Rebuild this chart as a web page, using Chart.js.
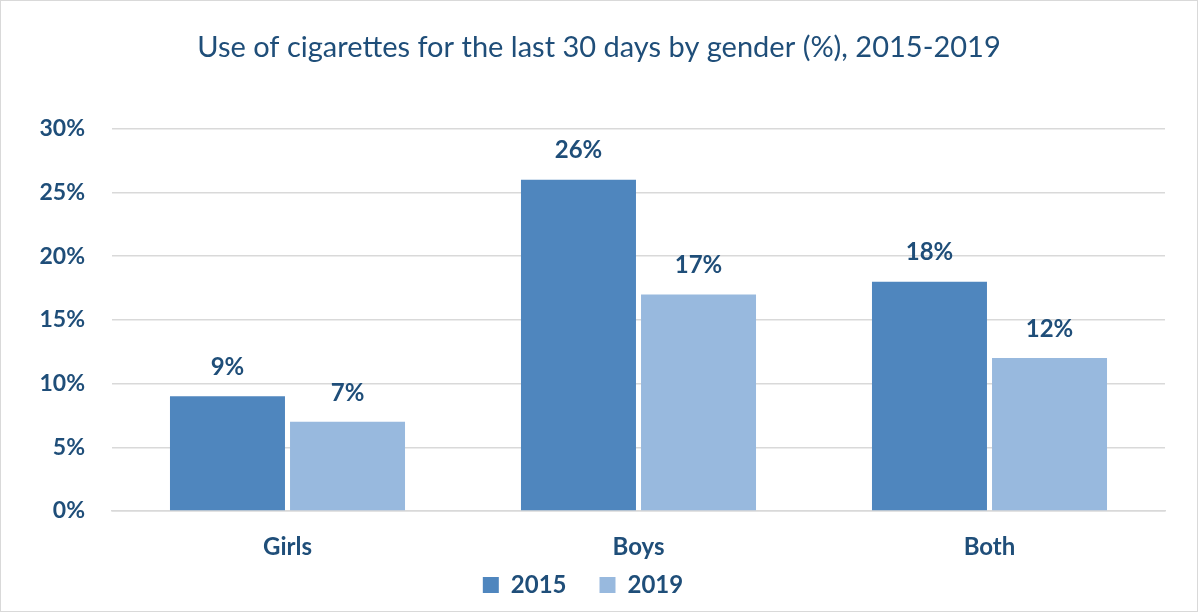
<!DOCTYPE html>
<html>
<head>
<meta charset="utf-8">
<script src="https://cdn.jsdelivr.net/npm/chart.js@4/dist/chart.umd.min.js"></script>
<style>
  html, body { margin: 0; padding: 0; background: #fff; }
  #wrap { position: relative; width: 1196px; height: 610px; border: 1px solid #d9d9d9; }
</style>
</head>
<body>
<div id="wrap"><canvas id="chart" width="1196" height="610"></canvas></div>
<script>
const categories = ['Girls', 'Boys', 'Both'];
const years = ['2015', '2019'];
const values2015 = [9, 26, 18];
const values2019 = [7, 17, 12];
const yTicks = [0, 5, 10, 15, 20, 25, 30];

const navy = '#1F4E79';
const fontFamily = 'Lato, "Noto Sans", sans-serif';

// value labels above each bar
const barLabels = {
    id: 'barLabels',
    afterDatasetsDraw(chart) {
        const ctx = chart.ctx;
        ctx.save();
        ctx.fillStyle = navy;
        ctx.font = 'bold 24px ' + fontFamily;
        ctx.textAlign = 'center';
        ctx.textBaseline = 'middle';
        chart.data.datasets.forEach((ds, i) => {
            chart.getDatasetMeta(i).data.forEach((bar, j) => {
                ctx.fillText(ds.data[j] + '%', bar.x, bar.y - 29);
            });
        });
        ctx.restore();
    }
};

// centre the title on the whole canvas and pull the legend up under the axis labels
const layoutTweaks = {
    id: 'layoutTweaks',
    afterLayout(chart) {
        const t = chart.titleBlock;
        t.left = 0;
        t.right = chart.width;
        t.width = chart.width;
        const lg = chart.legend;
        lg.top = 539;
        lg.bottom = chart.height;
        lg.height = lg.bottom - lg.top;
    }
};

new Chart(document.getElementById('chart'), {
    type: 'bar',
    data: {
        labels: categories,
        datasets: [
            { label: years[0], data: values2015, backgroundColor: '#4F86BE' },
            { label: years[1], data: values2019, backgroundColor: '#98B9DE' }
        ]
    },
    options: {
        responsive: false,
        animation: false,
        layout: { padding: { left: 0, right: 32, bottom: 0 } },
        datasets: { bar: { categoryPercentage: 0.684, barPercentage: 0.958 } },
        plugins: {
            title: {
                display: true,
                text: 'Use of cigarettes for the last 30 days by gender (%), 2015-2019',
                color: navy,
                font: { family: fontFamily, size: 29, weight: 'normal' },
                padding: { top: 29, bottom: 64 }
            },
            legend: {
                position: 'bottom',
                maxHeight: 44,
                labels: {
                    color: navy,
                    font: { family: fontFamily, size: 24, weight: 'bold' },
                    boxWidth: 16,
                    boxHeight: 16,
                    padding: 33
                }
            },
            tooltip: { enabled: false }
        },
        scales: {
            x: {
                afterFit(axis) { axis.height = 56; },
                grid: { display: false, drawTicks: false },
                border: { color: '#d9d9d9', width: 1.5 },
                ticks: {
                    color: navy,
                    padding: 22,
                    font: { family: fontFamily, size: 24, weight: 'bold' }
                }
            },
            y: {
                min: 0,
                max: 30,
                afterBuildTicks(axis) { axis.ticks = yTicks.map(v => ({ value: v })); },
                afterFit(axis) { axis.width = 111; },
                grid: { color: '#d9d9d9', lineWidth: 1.5, drawTicks: false },
                border: { display: false },
                ticks: {
                    color: navy,
                    padding: 27,
                    font: { family: fontFamily, size: 23, weight: 'bold' },
                    callback: v => v + '%'
                }
            }
        }
    },
    plugins: [barLabels, layoutTweaks]
});
</script>
</body>
</html>
